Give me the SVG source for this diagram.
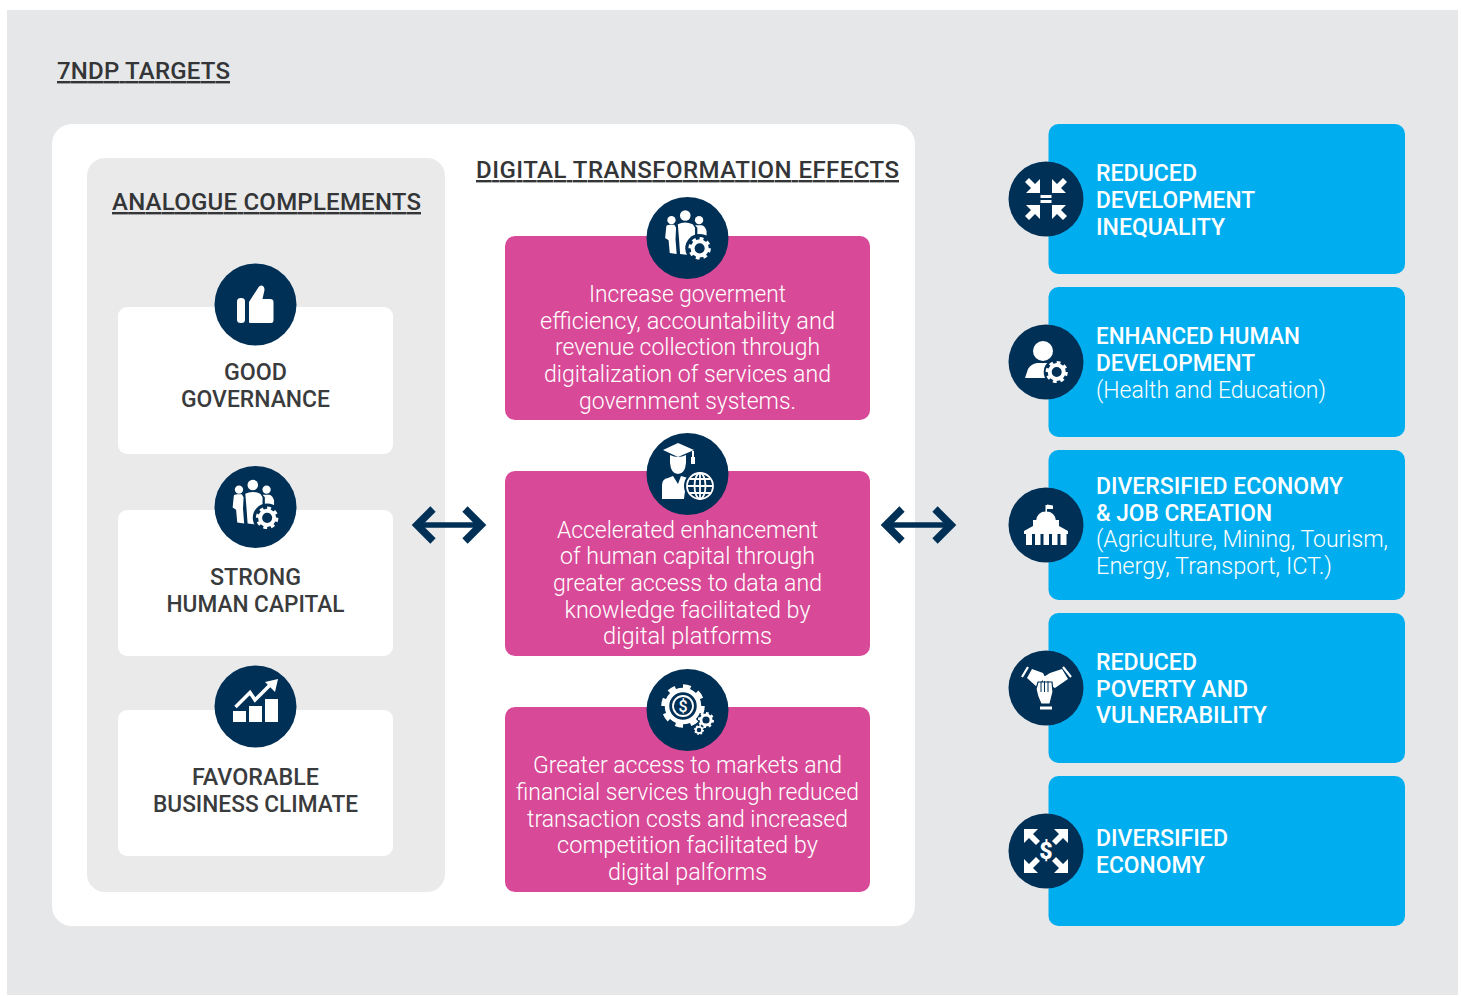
<svg xmlns="http://www.w3.org/2000/svg" xmlns:xlink="http://www.w3.org/1999/xlink" width="1461" height="996" viewBox="0 0 1461 996">
<style>
text{font-family:Roboto,"Liberation Sans",sans-serif}
.h{font-size:24px;font-weight:500;fill:#333537;text-decoration:underline;text-decoration-thickness:1.2px}
.n{font-size:24px;font-weight:500;fill:#3a3b3d;text-anchor:middle}
.p{font-size:24px;font-weight:300;fill:#fff;text-anchor:middle}
.b{font-size:24px;font-weight:500;fill:#fff}
.r{font-size:24px;font-weight:300;fill:#fff}
.navy{fill:#003056}.w{fill:#fff}
.card{fill:#fff}.pink{fill:#d84a97}.blue{fill:#00aeef}
.conn{stroke:#003056;stroke-width:5.500;fill:none;marker-start:url(#chev);marker-end:url(#chev)}
</style>
<defs>
<marker id="chev" markerUnits="userSpaceOnUse" markerWidth="50" markerHeight="60" refX="25" refY="30" orient="auto-start-reverse" overflow="visible">
<path d="M11,14 L27,30 L11,46" fill="none" stroke="#003056" stroke-width="7.500"/>
</marker>
<g id="gear">
<circle r="7" fill="none" stroke="#fff" stroke-width="4"/>
<circle r="9.600" fill="none" stroke="#fff" stroke-width="3" pathLength="16" stroke-dasharray="1 1"/>
</g>
<g id="team">
<circle cx="-13.500" cy="-15.500" r="3.600" class="w"/><circle cx="-1.500" cy="-19.500" r="4.600" class="w"/><circle cx="10.500" cy="-15.500" r="3.600" class="w"/>
<path class="w" d="M-18,-10 Q-18,-11.500-15,-11.500 L-11,-11.500 L-9.500,-9 L-10,1 L-9,14 L-15,13 L-16,2 L-19,0 Z"/>
<path class="w" d="M-8,-12 Q-2,-15 5,-12 L7,-9 L7,1 Q3,3 2,10 L3,15 L-6,14 L-7,0 Z"/>
<path class="w" d="M7,-11 L13,-11 Q16,-10 17,-6 L17,-2 L9,-3 L9,-9 Z"/>
<circle cx="11" cy="9" r="12.500" class="navy"/>
<use xlink:href="#gear" transform="translate(11 9) scale(.88)"/>
</g>
<polygon id="inArrow" class="w" points="-6,-6 -6,-20 -11,-15 -17,-21 -21,-17 -15,-11 -20,-6"/>
<polygon id="outArrow" class="w" points="-22,-22 -8,-22 -13,-17 -6,-10 -10,-6 -17,-13 -22,-8"/>
</defs>

<rect id="background" x="7" y="10" width="1451" height="985" fill="#e6e7e9"/>
<text class="h" x="57" y="79" textLength="173" lengthAdjust="spacing">7NDP TARGETS</text>
<rect id="panel" x="52" y="124" width="863" height="802" rx="20" fill="#fff"/>
<rect id="analogue-panel" x="87" y="158" width="358" height="734" rx="18" fill="#eaeaeb"/>
<text class="h" x="112" y="210" textLength="309" lengthAdjust="spacing">ANALOGUE COMPLEMENTS</text>
<text class="h" x="476" y="178" textLength="423" lengthAdjust="spacing">DIGITAL TRANSFORMATION EFFECTS</text>

<g id="connectors">
<path class="conn" d="M419,525 H479"/>
<path class="conn" d="M888,525 H949"/>
</g>

<g id="good-governance">
<rect class="card" x="118" y="307" width="275" height="147" rx="9"/>
<circle class="navy" cx="255.500" cy="304.500" r="41"/>
<rect class="w" x="237" y="298" width="8" height="25" rx="3.500"/>
<path class="w" d="M249,322 Q248.500,323 251,323 H271 Q273.500,323 273.500,320 V302 Q273.500,299 270,299 H262.500 L264.500,290 Q264.500,285.500 261,285.500 Q259,285.500 258,288 L249,302 Z"/>
<text class="n" x="255.500" y="380" textLength="63" lengthAdjust="spacingAndGlyphs">GOOD</text>
<text class="n" x="255.500" y="407" textLength="149" lengthAdjust="spacingAndGlyphs">GOVERNANCE</text>
</g>
<g id="strong-human-capital">
<rect class="card" x="118" y="510" width="275" height="146" rx="9"/>
<circle class="navy" cx="255.500" cy="507" r="41"/>
<use xlink:href="#team" transform="translate(254.500 507.500) scale(1.150)"/>
<text class="n" x="255.500" y="585" textLength="91" lengthAdjust="spacingAndGlyphs">STRONG</text>
<text class="n" x="255.500" y="612" textLength="178" lengthAdjust="spacingAndGlyphs">HUMAN CAPITAL</text>
</g>
<g id="favorable-business-climate">
<rect class="card" x="118" y="710" width="275" height="146" rx="9"/>
<circle class="navy" cx="255.500" cy="706.500" r="41"/>
<rect class="w" x="233" y="711" width="13" height="11"/><rect class="w" x="249" y="706" width="13" height="16"/><rect class="w" x="265" y="699" width="13" height="23"/>
<path d="M235.500,707 L250,692.500 L255,700 L271,684" fill="none" stroke="#fff" stroke-width="3.500"/>
<polygon class="w" points="278,679 265,682 275,692"/>
<text class="n" x="255.500" y="785" textLength="127" lengthAdjust="spacingAndGlyphs">FAVORABLE</text>
<text class="n" x="255.500" y="812" textLength="205" lengthAdjust="spacingAndGlyphs">BUSINESS CLIMATE</text>
</g>

<g id="effect-government">
<rect class="pink" x="505" y="236" width="365" height="184" rx="10"/>
<circle class="navy" cx="687.500" cy="238" r="41"/>
<use xlink:href="#team" transform="translate(687 238) scale(1.150)"/>
<text class="p" x="687.500" y="301.500" textLength="197" lengthAdjust="spacingAndGlyphs">Increase goverment</text>
<text class="p" x="687.500" y="328.500" textLength="295" lengthAdjust="spacingAndGlyphs">efficiency, accountability and</text>
<text class="p" x="687.500" y="354.500" textLength="265" lengthAdjust="spacingAndGlyphs">revenue collection through</text>
<text class="p" x="687.500" y="381.500" textLength="287" lengthAdjust="spacingAndGlyphs">digitalization of services and</text>
<text class="p" x="687.500" y="408.500" textLength="217" lengthAdjust="spacingAndGlyphs">government systems.</text>
</g>
<g id="effect-human-capital">
<rect class="pink" x="505" y="471" width="365" height="185" rx="10"/>
<circle class="navy" cx="687.500" cy="474" r="41"/>
<polygon class="w" points="663,450 678,443 694,450 678,457"/>
<rect class="w" x="692" y="451" width="2" height="6"/><rect class="w" x="691" y="457" width="4" height="7"/>
<path class="w" d="M670,455 Q678,459 686,455 L686,463 Q685,474 678,474 Q671,474 670,463 Z"/>
<path class="w" d="M662,499 V485 Q662,479 668,478 L673,476 L678,484 L681,476 L688,478 Q692,480 693,482 Q684,487 684,499 Z"/>
<circle cx="700" cy="486" r="16" class="navy"/>
<g fill="none" stroke="#fff" stroke-width="1.800"><circle cx="700" cy="486" r="13"/><ellipse cx="700" cy="486" rx="5.500" ry="13"/><path d="M700,473 V499 M687,486 H713 M689.500,479 H710.500 M689.500,493 H710.500"/></g>
<text class="p" x="687.500" y="537.500" textLength="261" lengthAdjust="spacingAndGlyphs">Accelerated enhancement</text>
<text class="p" x="687.500" y="563.500" textLength="255" lengthAdjust="spacingAndGlyphs">of human capital through</text>
<text class="p" x="687.500" y="590.500" textLength="269" lengthAdjust="spacingAndGlyphs">greater access to data and</text>
<text class="p" x="687.500" y="617.500" textLength="246" lengthAdjust="spacingAndGlyphs">knowledge facilitated by</text>
<text class="p" x="687.500" y="643.500" textLength="169" lengthAdjust="spacingAndGlyphs">digital platforms</text>
</g>
<g id="effect-markets">
<rect class="pink" x="505" y="707" width="365" height="185" rx="10"/>
<circle class="navy" cx="687.500" cy="710" r="41"/>
<circle cx="683" cy="706" r="16" fill="none" stroke="#fff" stroke-width="4.500"/>
<circle cx="683" cy="706" r="19.500" fill="none" stroke="#fff" stroke-width="4.500" pathLength="16" stroke-dasharray="1 1"/>
<circle cx="683" cy="706" r="10" fill="none" stroke="#fff" stroke-width="1.800"/>
<text x="683" y="712" font-size="16" font-weight="500" fill="#fff" text-anchor="middle">$</text>
<use xlink:href="#gear" transform="translate(706 720) scale(.72)"/>
<use xlink:href="#gear" transform="translate(699 730) scale(.45)"/>
<text class="p" x="687.500" y="772.500" textLength="309" lengthAdjust="spacingAndGlyphs">Greater access to markets and</text>
<text class="p" x="687.500" y="799.500" textLength="343" lengthAdjust="spacingAndGlyphs">financial services through reduced</text>
<text class="p" x="687.500" y="826.500" textLength="321" lengthAdjust="spacingAndGlyphs">transaction costs and increased</text>
<text class="p" x="687.500" y="852.500" textLength="261" lengthAdjust="spacingAndGlyphs">competition facilitated by</text>
<text class="p" x="687.500" y="879.500" textLength="159" lengthAdjust="spacingAndGlyphs">digital palforms</text>
</g>

<g id="reduced-inequality">
<rect class="blue" x="1048.500" y="124" width="356.500" height="150" rx="10"/>
<circle class="navy" cx="1046" cy="199" r="37.500"/>
<g transform="translate(1046 199)">
<use xlink:href="#inArrow"/><use xlink:href="#inArrow" transform="scale(-1 1)"/><use xlink:href="#inArrow" transform="scale(1 -1)"/><use xlink:href="#inArrow" transform="scale(-1 -1)"/>
<rect class="w" x="-5.500" y="-4" width="11" height="3"/><rect class="w" x="-5.500" y="1" width="11" height="3"/>
</g>
<text class="b" x="1096" y="181" textLength="101" lengthAdjust="spacingAndGlyphs">REDUCED</text>
<text class="b" x="1096" y="208" textLength="159" lengthAdjust="spacingAndGlyphs">DEVELOPMENT</text>
<text class="b" x="1096" y="235" textLength="129" lengthAdjust="spacingAndGlyphs">INEQUALITY</text>
</g>
<g id="enhanced-human-development">
<rect class="blue" x="1048.500" y="287" width="356.500" height="150" rx="10"/>
<circle class="navy" cx="1046" cy="362" r="37.500"/>
<circle class="w" cx="1043" cy="351" r="10"/>
<path class="w" d="M1025,378 L1028,369 Q1031,364 1037,363 L1049,363 Q1052,364 1054,366 L1045,378 Z"/>
<circle cx="1056.700" cy="372" r="13" class="navy"/>
<use xlink:href="#gear" transform="translate(1056.700 372)"/>
<text class="b" x="1096" y="344" textLength="204" lengthAdjust="spacingAndGlyphs">ENHANCED HUMAN</text>
<text class="b" x="1096" y="371" textLength="159" lengthAdjust="spacingAndGlyphs">DEVELOPMENT</text>
<text class="r" x="1096" y="398" textLength="230" lengthAdjust="spacingAndGlyphs">(Health and Education)</text>
</g>
<g id="diversified-economy-jobs">
<rect class="blue" x="1048.500" y="450" width="356.500" height="150" rx="10"/>
<circle class="navy" cx="1046" cy="525" r="37.500"/>
<rect class="w" x="1045.500" y="505" width="1.500" height="8"/><polygon class="w" points="1047,504.500 1053,505.500 1053,509 1047,509"/>
<path class="w" d="M1036,521 Q1037,511.500 1046,511.500 Q1055,511.500 1056,521 Z"/>
<polygon class="w" points="1033,520 1059,520 1059,526 1068,531 1068,534 1024,534 1024,531 1033,526"/>
<g class="w"><rect x="1026" y="534" width="6" height="11"/><rect x="1035" y="534" width="5.500" height="11"/><rect x="1043.500" y="534" width="5.500" height="11"/><rect x="1052" y="534" width="5.500" height="11"/><rect x="1060.500" y="534" width="6" height="11"/></g>
<text class="b" x="1096" y="494" textLength="247" lengthAdjust="spacingAndGlyphs">DIVERSIFIED ECONOMY</text>
<text class="b" x="1096" y="521" textLength="176" lengthAdjust="spacingAndGlyphs">&amp; JOB CREATION</text>
<text class="r" x="1096" y="547" textLength="292" lengthAdjust="spacingAndGlyphs">(Agriculture, Mining, Tourism,</text>
<text class="r" x="1096" y="574" textLength="236" lengthAdjust="spacingAndGlyphs">Energy, Transport, ICT.)</text>
</g>
<g id="reduced-poverty">
<rect class="blue" x="1048.500" y="613" width="356.500" height="150" rx="10"/>
<circle class="navy" cx="1046" cy="688" r="37.500"/>
<path d="M1022,677 L1028,667 M1071,677 L1063,667" stroke="#fff" stroke-width="2.200" fill="none"/>
<polygon class="w" points="1027,678 1032,669 1043,673 1045,677 1037,687"/>
<polygon class="w" points="1062,669 1068,679 1055,688 1043,682 1042,678 1050,673"/>
<path class="w" d="M1036,689 L1038,682 H1052 L1053,692 L1050,704 H1041 Q1037,696 1036,689 Z" stroke="#003056" stroke-width="1.200"/>
<rect class="w" x="1040" y="706.500" width="12" height="3"/>
<path d="M1041,682 V692 M1044.500,681 V692 M1048,681 V692" stroke="#003056" stroke-width="1"/>
<text class="b" x="1096" y="670" textLength="101" lengthAdjust="spacingAndGlyphs">REDUCED</text>
<text class="b" x="1096" y="697" textLength="152" lengthAdjust="spacingAndGlyphs">POVERTY AND</text>
<text class="b" x="1096" y="723" textLength="171" lengthAdjust="spacingAndGlyphs">VULNERABILITY</text>
</g>
<g id="diversified-economy">
<rect class="blue" x="1048.500" y="776" width="356.500" height="150" rx="10"/>
<circle class="navy" cx="1046" cy="851" r="37.500"/>
<g transform="translate(1046 851)">
<use xlink:href="#outArrow"/><use xlink:href="#outArrow" transform="scale(-1 1)"/><use xlink:href="#outArrow" transform="scale(1 -1)"/><use xlink:href="#outArrow" transform="scale(-1 -1)"/>
<text y="8" font-size="23" font-weight="900" fill="#fff" text-anchor="middle">$</text>
</g>
<text class="b" x="1096" y="846" textLength="132" lengthAdjust="spacingAndGlyphs">DIVERSIFIED</text>
<text class="b" x="1096" y="873" textLength="109" lengthAdjust="spacingAndGlyphs">ECONOMY</text>
</g>
</svg>
